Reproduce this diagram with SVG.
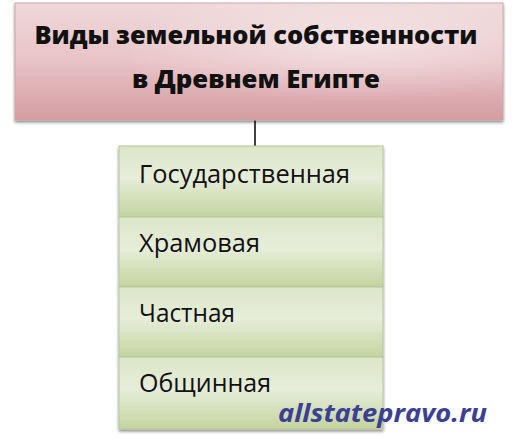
<svg xmlns="http://www.w3.org/2000/svg" width="522" height="442" viewBox="0 0 522 442">
<defs>
<style>
.title{font-family:"Open Sans","DejaVu Sans",sans-serif;font-weight:800;font-size:24px;fill:#111;}
.item{font-family:"Open Sans","DejaVu Sans",sans-serif;font-size:25px;fill:#111;}
.wm{font-family:"Open Sans","DejaVu Sans",sans-serif;font-weight:bold;font-style:italic;font-size:25px;fill:#3c3f92;}
.row{fill:url(#gRow);stroke:#b9c79e;stroke-width:1;}
</style>
<linearGradient id="gTitle" x1="0" y1="0" x2="0" y2="1">
<stop offset="0" stop-color="#eed8da"/>
<stop offset="0.5" stop-color="#e8c3c6"/>
<stop offset="1" stop-color="#d49ca1"/>
</linearGradient>
<linearGradient id="gRow" x1="0" y1="0" x2="0" y2="1">
<stop offset="0" stop-color="#dce6c8"/>
<stop offset="0.45" stop-color="#e6edd9"/>
<stop offset="1" stop-color="#c3d49f"/>
</linearGradient>
<radialGradient id="gGlow" cx="0.7" cy="0.35" r="0.5">
<stop offset="0" stop-color="#ffffff" stop-opacity="0.45"/>
<stop offset="1" stop-color="#ffffff" stop-opacity="0"/>
</radialGradient>
<filter id="sh" x="-5%" y="-5%" width="110%" height="115%">
<feGaussianBlur in="SourceAlpha" stdDeviation="1.5"/>
<feOffset dx="0" dy="2"/>
<feComponentTransfer><feFuncA type="linear" slope="0.45"/></feComponentTransfer>
<feMerge><feMergeNode/><feMergeNode in="SourceGraphic"/></feMerge>
</filter>
</defs>
<rect width="522" height="442" fill="#ffffff"/>
<g id="connectors">
<line x1="255" y1="93" x2="255" y2="146" stroke="#111" stroke-width="1.6"/>
</g>
<g id="title">
<rect x="15" y="3" width="488" height="117" fill="url(#gTitle)" stroke="#c9a5a8" stroke-width="1" filter="url(#sh)"/>
<rect x="15" y="3" width="488" height="117" fill="url(#gGlow)"/>
<text class="title" x="256" y="44" text-anchor="middle" textLength="443" lengthAdjust="spacingAndGlyphs">Виды земельной собственности</text>
<text class="title" x="256" y="88" text-anchor="middle" textLength="248" lengthAdjust="spacingAndGlyphs">в Древнем Египте</text>
</g>
<g id="list" filter="url(#sh)">
<rect class="row" x="119" y="146" width="264" height="71"/>
<rect class="row" x="119" y="217" width="264" height="70"/>
<rect class="row" x="119" y="287" width="264" height="70"/>
<rect class="row" x="119" y="357" width="264" height="72"/>
</g>
<g id="item1"><text class="item" x="139" y="183" textLength="211" lengthAdjust="spacingAndGlyphs">Государственная</text></g>
<g id="item2"><text class="item" x="139" y="252" textLength="121" lengthAdjust="spacingAndGlyphs">Храмовая</text></g>
<g id="item3"><text class="item" x="139" y="322" textLength="96" lengthAdjust="spacingAndGlyphs">Частная</text></g>
<g id="item4"><text class="item" x="139" y="392" textLength="132" lengthAdjust="spacingAndGlyphs">Общинная</text></g>
<text class="wm" x="278" y="422" textLength="209" lengthAdjust="spacingAndGlyphs">allstatepravo.ru</text>
</svg>
